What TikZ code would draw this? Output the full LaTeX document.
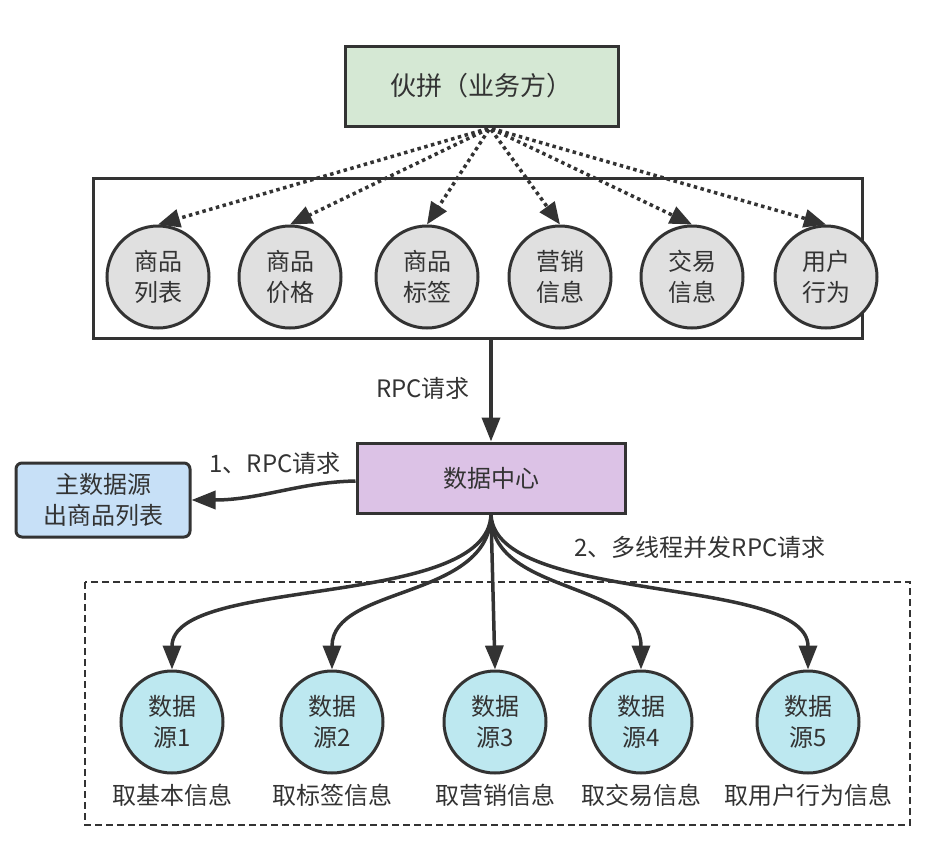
\documentclass[tikz,border=0pt]{standalone}
\usepackage{fontspec}
\setmainfont{Noto Sans CJK SC}
\usetikzlibrary{arrows.meta}
\definecolor{lc}{HTML}{333333}
\definecolor{greenf}{HTML}{D5E8D4}
\definecolor{purplef}{HTML}{DCC2E6}
\definecolor{bluef}{HTML}{C7E0F7}
\definecolor{grayf}{HTML}{E0E0E0}
\definecolor{cyanf}{HTML}{BDE8F0}
\tikzset{
  txt/.style={font=\fontsize{24}{31}\selectfont, text=lc, align=center},
  boxn/.style={txt, draw=lc, line width=3pt, inner sep=0pt},
  circg/.style={boxn, circle, fill=grayf, minimum size=102pt},
  circc/.style={boxn, circle, fill=cyanf, minimum size=102pt},
  dotarrow/.style={draw=lc, line width=3.5pt, dash pattern=on 3.5pt off 3.5pt, -{Triangle[length=22pt,width=18pt,sharp]}},
  solarrow/.style={draw=lc, line width=3.5pt, -{Triangle[length=24pt,width=18pt]}},
  lbl/.style={txt, inner sep=0pt}
}
\begin{document}
\begin{tikzpicture}[x=1pt,y=-1pt]
\useasboundingbox (0,0) rectangle (948,846);
% top
\node[boxn, fill=greenf, minimum width=273pt, minimum height=80pt, font=\fontsize{26}{30}\selectfont] (top) at (481.5,86) {伙拼（业务方）};
% big box
\node[draw=lc, line width=3pt, fill=white, minimum width=769pt, minimum height=160pt, inner sep=0pt] (big) at (477.5,258) {};
\node[circg] (g1) at (158,277) {商品\\列表};
\node[circg] (g2) at (290,277) {商品\\价格};
\node[circg] (g3) at (427,277) {商品\\标签};
\node[circg] (g4) at (560,277) {营销\\信息};
\node[circg] (g5) at (692,277) {交易\\信息};
\node[circg] (g6) at (826,277) {用户\\行为};
\coordinate (src) at (490,128);
\foreach \i in {1,...,6} {
  \draw[dotarrow, shorten <=2pt] (src) -- (g\i.north);
}
% data center
\node[boxn, fill=purplef, minimum width=268pt, minimum height=70pt] (dc) at (491,478) {数据中心};
\draw[solarrow] (big.south -| dc.north) -- (dc.north);
\node[lbl, anchor=east] (rpc) at (470,388) {RPC请求};
% main data source
\node[boxn, fill=bluef, minimum width=174pt, minimum height=74pt, rounded corners=6pt] (main) at (103,500) {主数据源\\出商品列表};
\draw[solarrow] (dc.west |- 0,481) .. controls (300,482) and (260,500) .. (main.east |- 0,500);
\node[lbl] (l1) at (275,463) {1、RPC请求};
% dashed box
\draw[lc, line width=2pt, dash pattern=on 7pt off 4pt] (85,582) rectangle (910,825);
\node[lbl] (l2) at (700,547) {2、多线程并发RPC请求};
% data sources
\node[circc] (d1) at (172,722) {数据\\源1};
\node[circc] (d2) at (332,722) {数据\\源2};
\node[circc] (d3) at (495,722) {数据\\源3};
\node[circc] (d4) at (641,722) {数据\\源4};
\node[circc] (d5) at (808,722) {数据\\源5};
\node[lbl] (t1) at (172,795) {取基本信息};
\node[lbl] (t2) at (332,795) {取标签信息};
\node[lbl] (t3) at (495,795) {取营销信息};
\node[lbl] (t4) at (641,795) {取交易信息};
\node[lbl] (t5) at (808,795) {取用户行为信息};
\draw[solarrow] (dc.south) .. controls (488,610) and (172,575) .. (d1.north);
\draw[solarrow] (dc.south) .. controls (490,600) and (332,585) .. (d2.north);
\draw[solarrow] (dc.south) -- (d3.north);
\draw[solarrow] (dc.south) .. controls (490,595) and (641,580) .. (d4.north);
\draw[solarrow] (dc.south) .. controls (495,605) and (808,575) .. (d5.north);
\end{tikzpicture}
\end{document}
